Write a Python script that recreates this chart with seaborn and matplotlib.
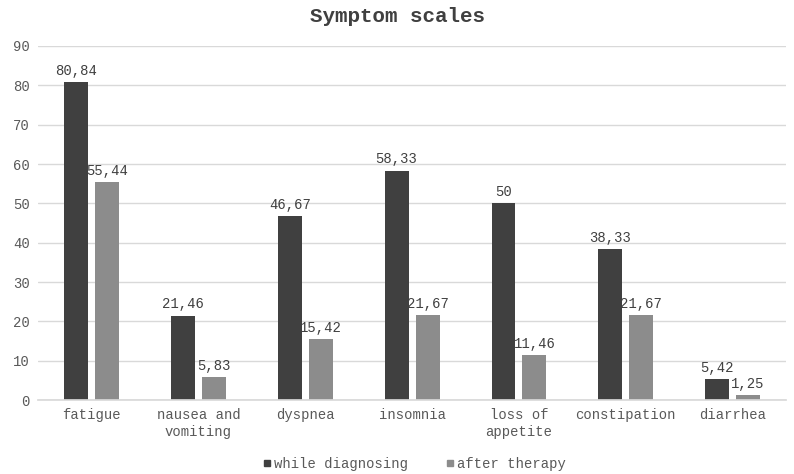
import pandas as pd
import seaborn as sns
import matplotlib.pyplot as plt
from matplotlib.lines import Line2D

categories = ["fatigue", "nausea and\nvomiting", "dyspnea", "insomnia",
              "loss of\nappetite", "constipation", "diarrhea"]
while_diagnosing = [80.84, 21.46, 46.67, 58.33, 50, 38.33, 5.42]
after_therapy = [55.44, 5.83, 15.42, 21.67, 11.46, 21.67, 1.25]
series = ["while diagnosing", "after therapy"]
colors = ["#404040", "#8c8c8c"]

df = pd.DataFrame({
    "symptom": categories * 2,
    "value": while_diagnosing + after_therapy,
    "phase": [series[0]] * len(categories) + [series[1]] * len(categories),
})

sns.set_theme(style="white")
plt.rcParams["font.family"] = ["Liberation Mono", "DejaVu Sans Mono"]

fig = plt.figure(figsize=(7.94, 4.74), dpi=100)
ax = fig.add_axes([0.048, 0.156, 0.942, 0.747])

sns.barplot(data=df, x="symptom", y="value", hue="phase", palette=colors,
            width=0.58, gap=0.23, ax=ax, legend=False, saturation=1,
            linewidth=0)

for cont in ax.containers:
    labels = [f"{v:g}".replace(".", ",") for v in cont.datavalues]
    ax.bar_label(cont, labels=labels, padding=3, fontsize=10, color="#404040")

ax.set_ylim(0, 90)
ax.set_yticks(range(0, 91, 10))
ax.set_xlim(-0.5, len(categories) - 0.5)
ax.yaxis.grid(True, color="#d9d9d9", linewidth=1)
ax.set_axisbelow(True)
for s in ["top", "right", "left"]:
    ax.spines[s].set_visible(False)
ax.spines["bottom"].set_color("#d9d9d9")
ax.tick_params(axis="both", colors="#595959", labelsize=10, length=0, pad=6)
ax.set_xlabel("")
ax.set_ylabel("")

fig.suptitle("Symptom scales", y=0.985, fontsize=15, fontweight="bold", color="#404040")

handles = [Line2D([], [], marker="s", linestyle="", color=c, markersize=5) for c in colors]
fig.legend(handles, series, loc="lower center", ncol=2, frameon=False,
           bbox_to_anchor=(0.52, -0.02), fontsize=10, labelcolor="#595959",
           handletextpad=0.0, columnspacing=2.5, handlelength=1.0)

fig.savefig("out.png", dpi=100)
